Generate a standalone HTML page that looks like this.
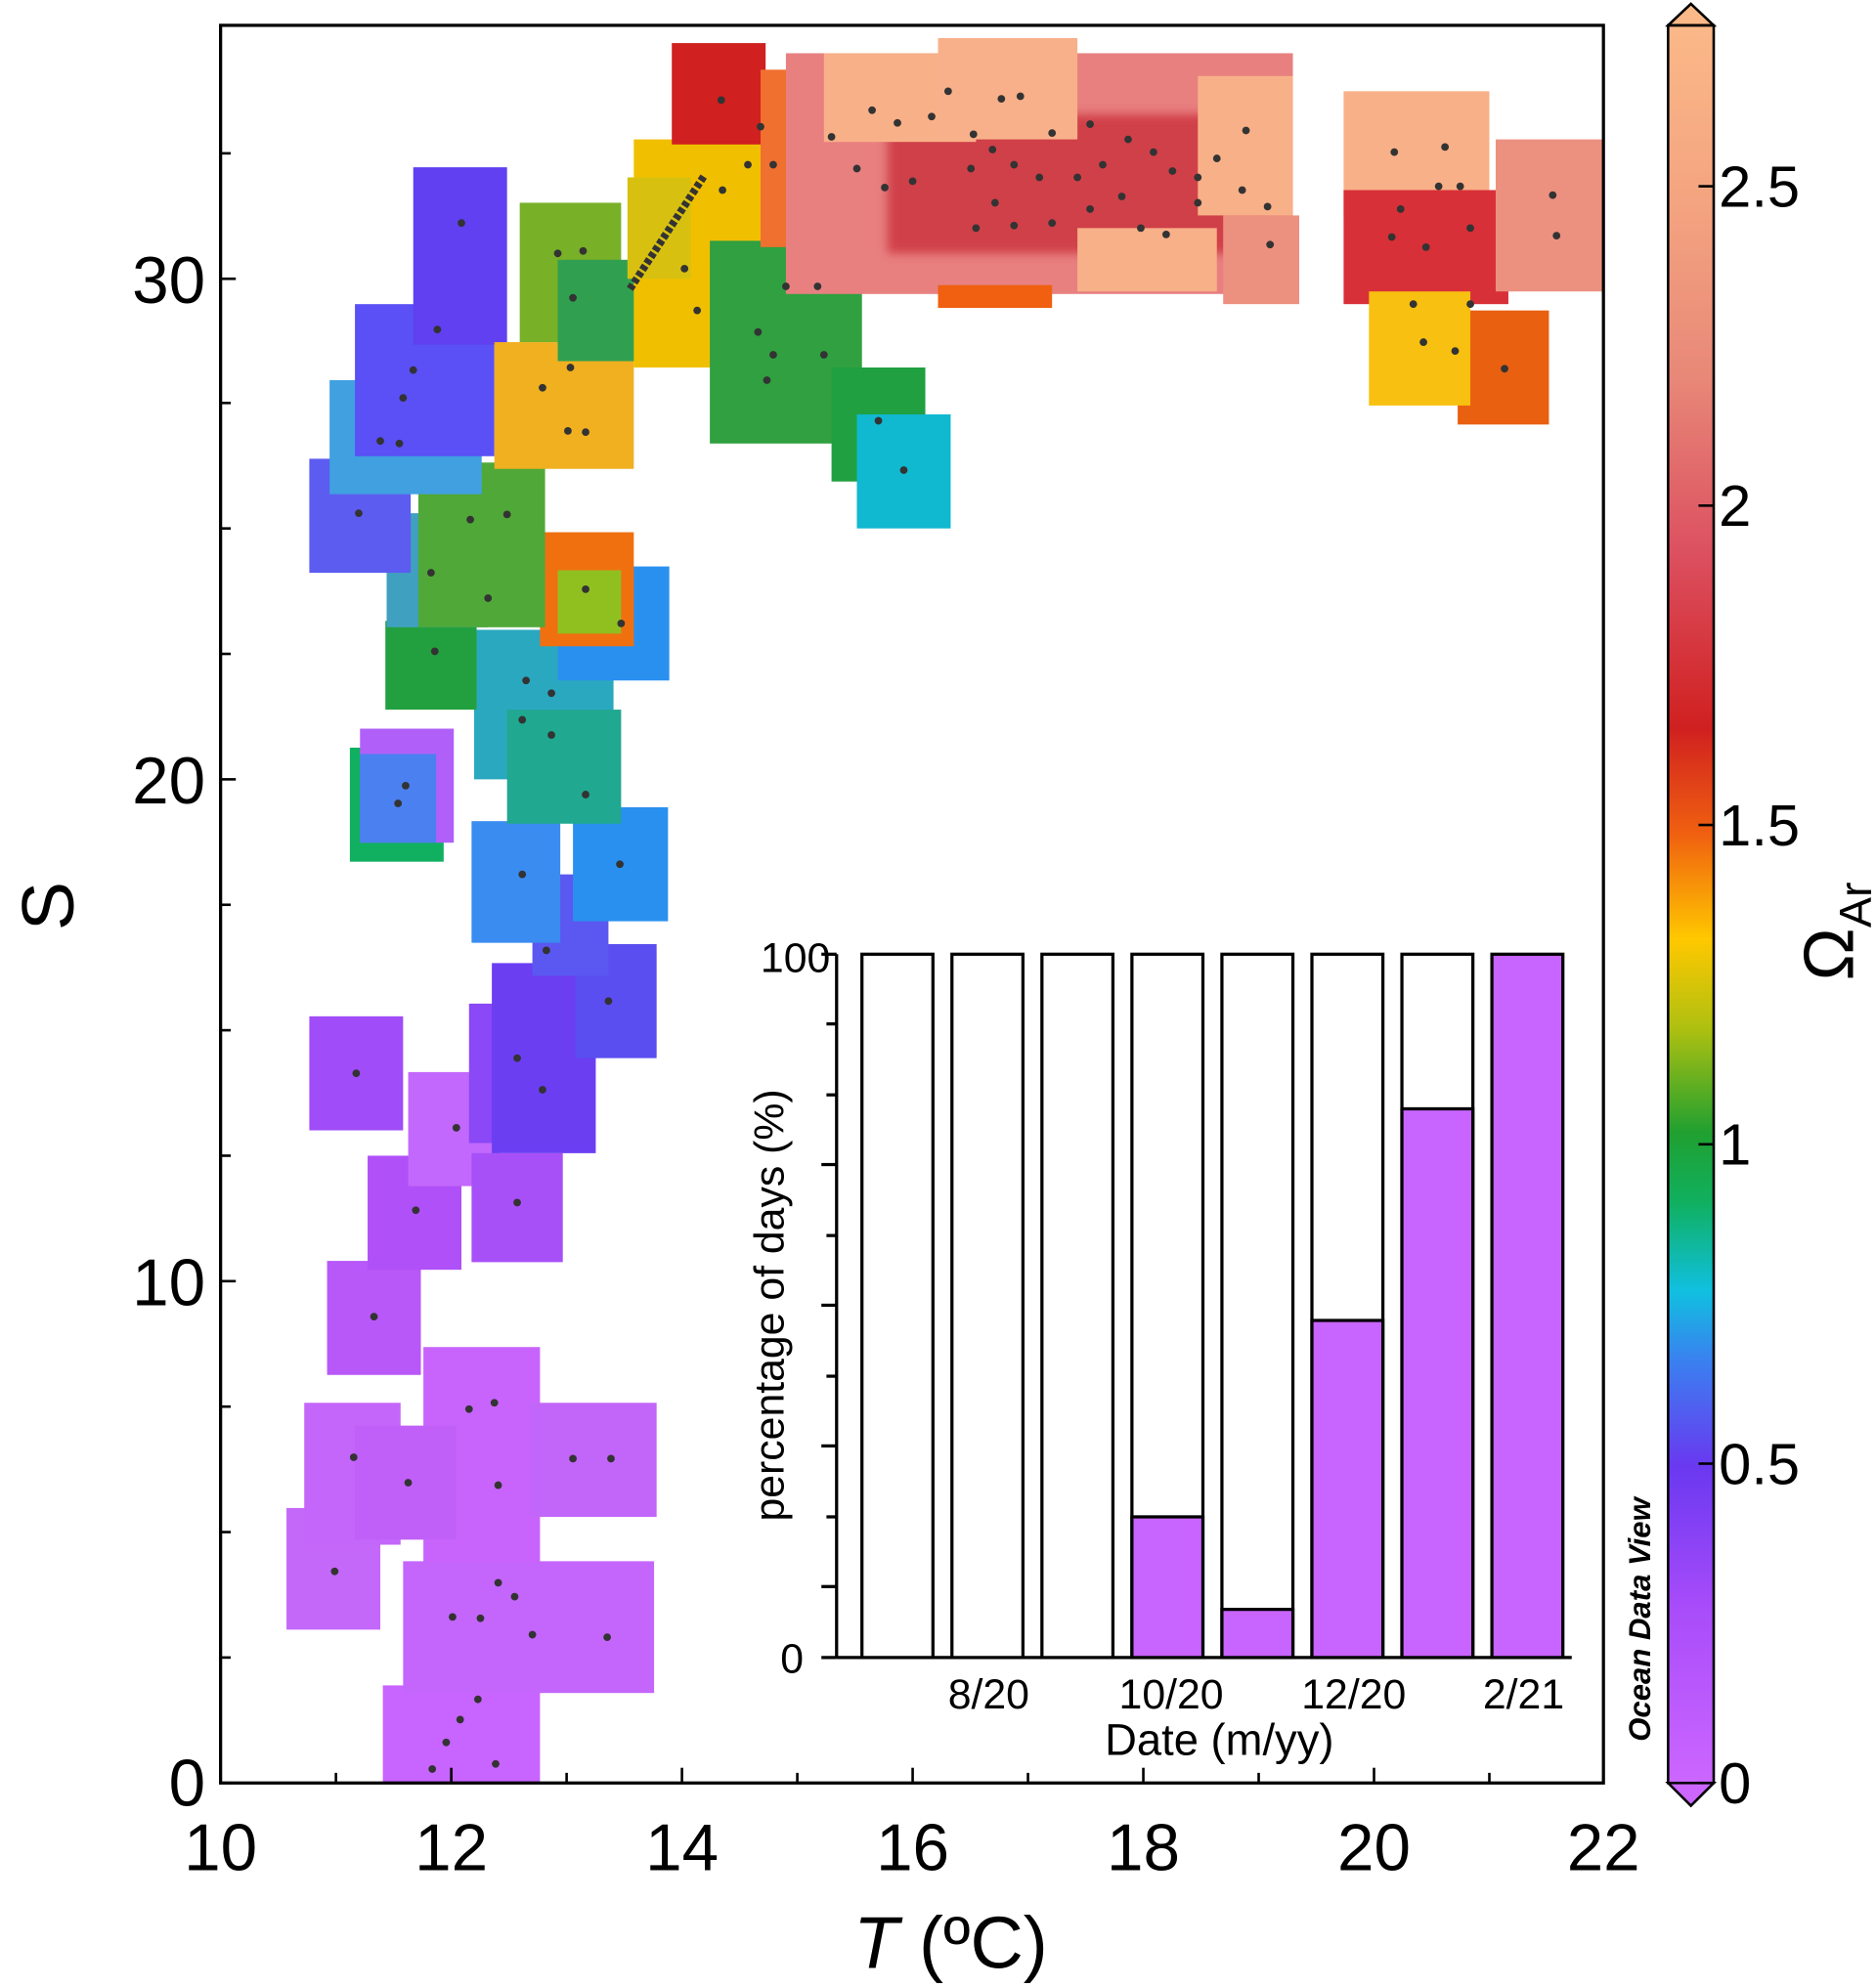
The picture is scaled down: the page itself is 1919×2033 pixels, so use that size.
<!DOCTYPE html>
<html><head><meta charset="utf-8"><style>
html,body{margin:0;padding:0;background:#fff;}
svg{display:block;}
text{font-family:"Liberation Sans",sans-serif;fill:#000;}
</style></head><body>
<svg width="1919" height="2033" viewBox="0 0 1480 1568" xmlns="http://www.w3.org/2000/svg">
<defs>
<linearGradient id="cb" x1="0" y1="1" x2="0" y2="0">
<stop offset="0" stop-color="#cc66ff"/>
<stop offset="0.1" stop-color="#a84cfa"/>
<stop offset="0.18" stop-color="#6a38f0"/>
<stop offset="0.24" stop-color="#3a80f0"/>
<stop offset="0.28" stop-color="#10c0e0"/>
<stop offset="0.33" stop-color="#10b060"/>
<stop offset="0.37" stop-color="#20a030"/>
<stop offset="0.43" stop-color="#b0c010"/>
<stop offset="0.48" stop-color="#ffc800"/>
<stop offset="0.54" stop-color="#f06010"/>
<stop offset="0.6" stop-color="#d02020"/>
<stop offset="0.7" stop-color="#dc5060"/>
<stop offset="0.8" stop-color="#e88878"/>
<stop offset="0.9" stop-color="#f4a480"/>
<stop offset="1" stop-color="#fbb888"/>
</linearGradient>
<filter id="bl"><feGaussianBlur stdDeviation="4"/></filter>
</defs>

<g>
<!-- violet bottom -->
<rect x="302" y="1330" width="124" height="78" fill="#c864ff"/>
<rect x="318" y="1232" width="198" height="104" fill="#c466fc"/>
<rect x="226" y="1190" width="74" height="96" fill="#c468fa"/>
<rect x="240" y="1107" width="76" height="112" fill="#c466fa"/>
<rect x="334" y="1063" width="92" height="170" fill="#c864fc"/>
<rect x="418" y="1107" width="100" height="90" fill="#c266fa"/>
<rect x="280" y="1125" width="80" height="90" fill="#c060f8"/>
<rect x="258" y="995" width="74" height="90" fill="#b858f8"/>
<rect x="290" y="912" width="74" height="90" fill="#b050f8"/>
<rect x="322" y="846" width="72" height="90" fill="#c268fc"/>
<rect x="372" y="910" width="72" height="86" fill="#a850f8"/>
<rect x="244" y="802" width="74" height="90" fill="#a04cf8"/>
<!-- blue-violet -->
<rect x="370" y="792" width="60" height="110" fill="#8a48f6"/>
<rect x="388" y="760" width="82" height="150" fill="#6c3ef2"/>
<rect x="454" y="745" width="64" height="90" fill="#5a4ef0"/>
<rect x="420" y="690" width="60" height="80" fill="#5a58f0"/>
<rect x="372" y="648" width="70" height="96" fill="#3a8cf0"/>
<rect x="452" y="637" width="75" height="90" fill="#2a90f0"/>
<rect x="276" y="590" width="74" height="90" fill="#10b060"/>
<rect x="284" y="575" width="74" height="90" fill="#b060f8"/>
<rect x="284" y="595" width="60" height="70" fill="#4a80f0"/>
<!-- green/cyan middle -->
<rect x="374" y="497" width="110" height="118" fill="#2aa8c0"/>
<rect x="400" y="560" width="90" height="90" fill="#20a890"/>
<rect x="304" y="490" width="72" height="70" fill="#22a040"/>
<rect x="440" y="447" width="88" height="90" fill="#2a90f0"/>
<rect x="426" y="420" width="74" height="90" fill="#f07010"/>
<rect x="440" y="450" width="50" height="50" fill="#90c020"/>
<rect x="305" y="405" width="80" height="90" fill="#40a0c0"/>
<rect x="330" y="365" width="100" height="130" fill="#50a838"/>
<rect x="244" y="362" width="80" height="90" fill="#5c5cf0"/>
<rect x="260" y="300" width="120" height="90" fill="#40a0e0"/>
<rect x="280" y="240" width="110" height="120" fill="#5a50f5"/>
<rect x="326" y="132" width="74" height="140" fill="#6040f0"/>
<rect x="390" y="270" width="110" height="100" fill="#f0b020"/>
<rect x="410" y="160" width="80" height="110" fill="#78b028"/>
<rect x="440" y="205" width="70" height="80" fill="#30a050"/>
<rect x="500" y="110" width="110" height="180" fill="#f0c000"/>
<rect x="495" y="140" width="50" height="80" fill="#d8c010"/>
<rect x="530" y="34" width="74" height="80" fill="#d02020"/>
<rect x="560" y="190" width="120" height="160" fill="#30a040"/>
<rect x="656" y="290" width="74" height="90" fill="#20a040"/>
<rect x="676" y="327" width="74" height="90" fill="#10b8d0"/>
<rect x="600" y="55" width="60" height="140" fill="#f07030"/>
<!-- pink top right -->
<rect x="620" y="42" width="400" height="190" fill="#e88080"/>
<rect x="700" y="90" width="300" height="110" fill="#d04048" filter="url(#bl)"/>
<rect x="650" y="42" width="120" height="70" fill="#f8b088"/>
<rect x="740" y="30" width="110" height="80" fill="#f8b08a"/>
<rect x="850" y="180" width="110" height="50" fill="#f8b088"/>
<rect x="945" y="60" width="75" height="110" fill="#f8b088"/>
<rect x="965" y="170" width="60" height="70" fill="#ec9080"/>
<rect x="740" y="225" width="90" height="18" fill="#f06010"/>
<rect x="1060" y="72" width="115" height="100" fill="#f8b088"/>
<rect x="1060" y="150" width="130" height="90" fill="#d83038"/>
<rect x="1180" y="110" width="85" height="120" fill="#ec9080"/>
<rect x="1150" y="245" width="72" height="90" fill="#e86010"/>
<rect x="1080" y="230" width="80" height="90" fill="#f8c010"/>
</g>

<!-- dots -->
<g fill="#333">
<circle cx="364" cy="176" r="3"/><circle cx="345" cy="260" r="3"/><circle cx="326" cy="292" r="3"/><circle cx="318" cy="314" r="3"/><circle cx="300" cy="348" r="3"/><circle cx="315" cy="350" r="3"/><circle cx="283" cy="405" r="3"/><circle cx="371" cy="410" r="3"/><circle cx="400" cy="406" r="3"/><circle cx="340" cy="452" r="3"/><circle cx="385" cy="472" r="3"/><circle cx="343" cy="514" r="3"/><circle cx="415" cy="537" r="3"/><circle cx="435" cy="547" r="3"/><circle cx="412" cy="568" r="3"/><circle cx="435" cy="580" r="3"/><circle cx="462" cy="627" r="3"/><circle cx="412" cy="690" r="3"/><circle cx="489" cy="682" r="3"/><circle cx="431" cy="750" r="3"/><circle cx="480" cy="790" r="3"/><circle cx="408" cy="835" r="3"/><circle cx="428" cy="860" r="3"/><circle cx="281" cy="847" r="3"/><circle cx="360" cy="890" r="3"/><circle cx="328" cy="955" r="3"/><circle cx="408" cy="949" r="3"/><circle cx="295" cy="1039" r="3"/><circle cx="370" cy="1112" r="3"/><circle cx="390" cy="1107" r="3"/><circle cx="279" cy="1150" r="3"/><circle cx="322" cy="1170" r="3"/><circle cx="393" cy="1172" r="3"/><circle cx="452" cy="1151" r="3"/><circle cx="482" cy="1151" r="3"/><circle cx="264" cy="1240" r="3"/><circle cx="357" cy="1276" r="3"/><circle cx="379" cy="1277" r="3"/><circle cx="393" cy="1249" r="3"/><circle cx="406" cy="1260" r="3"/><circle cx="420" cy="1290" r="3"/><circle cx="479" cy="1292" r="3"/><circle cx="377" cy="1341" r="3"/><circle cx="363" cy="1357" r="3"/><circle cx="352" cy="1375" r="3"/><circle cx="391" cy="1392" r="3"/><circle cx="341" cy="1396" r="3"/><circle cx="320" cy="620" r="3"/><circle cx="314" cy="634" r="3"/>
<circle cx="440" cy="200" r="3"/><circle cx="460" cy="198" r="3"/><circle cx="452" cy="235" r="3"/><circle cx="428" cy="306" r="3"/><circle cx="450" cy="290" r="3"/><circle cx="448" cy="340" r="3"/><circle cx="462" cy="341" r="3"/><circle cx="462" cy="465" r="3"/><circle cx="490" cy="492" r="3"/>
<circle cx="569" cy="79" r="3"/><circle cx="600" cy="100" r="3"/><circle cx="590" cy="130" r="3"/><circle cx="610" cy="130" r="3"/><circle cx="570" cy="150" r="3"/><circle cx="540" cy="212" r="3"/><circle cx="550" cy="245" r="3"/><circle cx="620" cy="226" r="3"/><circle cx="645" cy="226" r="3"/><circle cx="598" cy="262" r="3"/><circle cx="610" cy="280" r="3"/><circle cx="605" cy="300" r="3"/><circle cx="650" cy="280" r="3"/><circle cx="693" cy="332" r="3"/><circle cx="713" cy="371" r="3"/>
<circle cx="656" cy="108" r="3"/><circle cx="688" cy="87" r="3"/><circle cx="708" cy="97" r="3"/><circle cx="735" cy="92" r="3"/><circle cx="748" cy="72" r="3"/><circle cx="790" cy="78" r="3"/><circle cx="805" cy="76" r="3"/><circle cx="676" cy="133" r="3"/><circle cx="698" cy="148" r="3"/><circle cx="720" cy="143" r="3"/><circle cx="768" cy="106" r="3"/><circle cx="783" cy="118" r="3"/><circle cx="800" cy="130" r="3"/><circle cx="766" cy="133" r="3"/><circle cx="820" cy="140" r="3"/><circle cx="850" cy="140" r="3"/><circle cx="870" cy="130" r="3"/><circle cx="890" cy="110" r="3"/><circle cx="910" cy="120" r="3"/><circle cx="925" cy="135" r="3"/><circle cx="945" cy="140" r="3"/><circle cx="960" cy="125" r="3"/><circle cx="983" cy="103" r="3"/><circle cx="1000" cy="163" r="3"/><circle cx="980" cy="150" r="3"/><circle cx="785" cy="160" r="3"/><circle cx="770" cy="180" r="3"/><circle cx="800" cy="178" r="3"/><circle cx="830" cy="176" r="3"/><circle cx="860" cy="165" r="3"/><circle cx="885" cy="155" r="3"/><circle cx="900" cy="180" r="3"/><circle cx="920" cy="185" r="3"/><circle cx="945" cy="160" r="3"/><circle cx="1002" cy="193" r="3"/><circle cx="830" cy="105" r="3"/><circle cx="860" cy="98" r="3"/>
<circle cx="1100" cy="120" r="3"/><circle cx="1140" cy="116" r="3"/><circle cx="1135" cy="147" r="3"/><circle cx="1152" cy="147" r="3"/><circle cx="1105" cy="165" r="3"/><circle cx="1160" cy="180" r="3"/><circle cx="1098" cy="187" r="3"/><circle cx="1125" cy="195" r="3"/><circle cx="1115" cy="240" r="3"/><circle cx="1160" cy="240" r="3"/><circle cx="1123" cy="270" r="3"/><circle cx="1148" cy="277" r="3"/><circle cx="1187" cy="291" r="3"/><circle cx="1225" cy="154" r="3"/><circle cx="1228" cy="186" r="3"/>
</g>
<line x1="497" y1="228" x2="556" y2="138" stroke="#333" stroke-width="6" stroke-dasharray="4 2"/>

<!-- axes box -->
<rect x="174" y="20" width="1091" height="1387" fill="none" stroke="#000" stroke-width="2.5"/>
<g stroke="#000" stroke-width="2">
<line x1="174" y1="1407" x2="184" y2="1407"/><line x1="174" y1="1308" x2="182" y2="1308"/><line x1="174" y1="1209" x2="182" y2="1209"/><line x1="174" y1="1110" x2="182" y2="1110"/><line x1="174" y1="1011" x2="186" y2="1011"/><line x1="174" y1="912" x2="182" y2="912"/><line x1="174" y1="813" x2="182" y2="813"/><line x1="174" y1="714" x2="182" y2="714"/><line x1="174" y1="615" x2="186" y2="615"/><line x1="174" y1="516" x2="182" y2="516"/><line x1="174" y1="417" x2="182" y2="417"/><line x1="174" y1="318" x2="182" y2="318"/><line x1="174" y1="220" x2="186" y2="220"/><line x1="174" y1="121" x2="182" y2="121"/>
<line x1="265" y1="1407" x2="265" y2="1399"/><line x1="356" y1="1407" x2="356" y2="1395"/><line x1="447" y1="1407" x2="447" y2="1399"/><line x1="538" y1="1407" x2="538" y2="1395"/><line x1="629" y1="1407" x2="629" y2="1399"/><line x1="720" y1="1407" x2="720" y2="1395"/><line x1="811" y1="1407" x2="811" y2="1399"/><line x1="902" y1="1407" x2="902" y2="1395"/><line x1="993" y1="1407" x2="993" y2="1399"/><line x1="1084" y1="1407" x2="1084" y2="1395"/><line x1="1175" y1="1407" x2="1175" y2="1399"/>
</g>
<g font-size="52" text-anchor="end">
<text x="162" y="1425">0</text><text x="162" y="1030">10</text><text x="162" y="634">20</text><text x="162" y="239">30</text>
</g>
<g font-size="52" text-anchor="middle">
<text x="174" y="1476">10</text><text x="356" y="1476">12</text><text x="538" y="1476">14</text><text x="720" y="1476">16</text><text x="902" y="1476">18</text><text x="1084" y="1476">20</text><text x="1265" y="1476">22</text>
</g>
<text x="750" y="1553" font-size="58" text-anchor="middle"><tspan font-style="italic">T</tspan> (ºC)</text>
<text transform="translate(58,715) rotate(-90)" font-size="58" text-anchor="middle">S</text>

<!-- inset -->
<rect x="560" y="740" width="690" height="650" fill="#fff" opacity="0"/>
<g stroke="#000" stroke-width="2.5">
<line x1="660" y1="753" x2="660" y2="1308"/>
<line x1="660" y1="1308" x2="1240" y2="1308"/>
<line x1="648" y1="753" x2="660" y2="753"/><line x1="648" y1="1308" x2="660" y2="1308"/>
<line x1="652" y1="808" x2="660" y2="808"/><line x1="652" y1="864" x2="660" y2="864"/><line x1="648" y1="919" x2="660" y2="919"/><line x1="652" y1="975" x2="660" y2="975"/><line x1="648" y1="1030" x2="660" y2="1030"/><line x1="652" y1="1086" x2="660" y2="1086"/><line x1="648" y1="1141" x2="660" y2="1141"/><line x1="652" y1="1197" x2="660" y2="1197"/><line x1="648" y1="1252" x2="660" y2="1252"/>
</g>
<g stroke="#000" stroke-width="2.5">
<rect x="680" y="753" width="56" height="555" fill="#fff"/>
<rect x="751" y="753" width="56" height="555" fill="#fff"/>
<rect x="822" y="753" width="56" height="555" fill="#fff"/>
<rect x="893" y="753" width="56" height="555" fill="#fff"/>
<rect x="893" y="1197" width="56" height="111" fill="#c864ff"/>
<rect x="964" y="753" width="56" height="555" fill="#fff"/>
<rect x="964" y="1270" width="56" height="38" fill="#c864ff"/>
<rect x="1035" y="753" width="56" height="555" fill="#fff"/>
<rect x="1035" y="1042" width="56" height="266" fill="#c864ff"/>
<rect x="1106" y="753" width="56" height="555" fill="#fff"/>
<rect x="1106" y="875" width="56" height="433" fill="#c864ff"/>
<rect x="1177" y="753" width="56" height="555" fill="#c864ff"/>
</g>
<g font-size="33" text-anchor="end"><text x="655" y="767">100</text><text x="634" y="1320">0</text></g>
<g font-size="33" text-anchor="middle"><text x="780" y="1348">8/20</text><text x="924" y="1348">10/20</text><text x="1068" y="1348">12/20</text><text x="1202" y="1348">2/21</text></g>
<text x="962" y="1385" font-size="35" text-anchor="middle">Date (m/yy)</text>
<text transform="translate(618,1030) rotate(-90)" font-size="33" text-anchor="middle">percentage of days (%)</text>

<!-- colorbar -->
<rect x="1316" y="20" width="36" height="1387" fill="url(#cb)"/>
<polygon points="1316,20 1334,3 1352,20" fill="#fbb888" stroke="#000" stroke-width="2"/>
<polygon points="1316,1407 1334,1425 1352,1407" fill="#cc66ff" stroke="#000" stroke-width="2"/>
<rect x="1316" y="20" width="36" height="1387" fill="none" stroke="#000" stroke-width="2"/>
<g stroke="#000" stroke-width="2">
<line x1="1340" y1="1407" x2="1352" y2="1407"/><line x1="1340" y1="1155" x2="1352" y2="1155"/><line x1="1340" y1="903" x2="1352" y2="903"/><line x1="1340" y1="651" x2="1352" y2="651"/><line x1="1340" y1="399" x2="1352" y2="399"/><line x1="1340" y1="147" x2="1352" y2="147"/>
</g>
<g font-size="46">
<text x="1356" y="1423">0</text><text x="1356" y="1171">0.5</text><text x="1356" y="919">1</text><text x="1356" y="667">1.5</text><text x="1356" y="415">2</text><text x="1356" y="163">2.5</text>
</g>
<text transform="translate(1462,735) rotate(-90)" font-size="56" text-anchor="middle">Ω<tspan font-size="36" dy="14">Ar</tspan></text>
<text transform="translate(1302,1278) rotate(-90)" font-size="24" font-weight="bold" font-style="italic" text-anchor="middle">Ocean Data View</text>
</svg>
</body></html>
